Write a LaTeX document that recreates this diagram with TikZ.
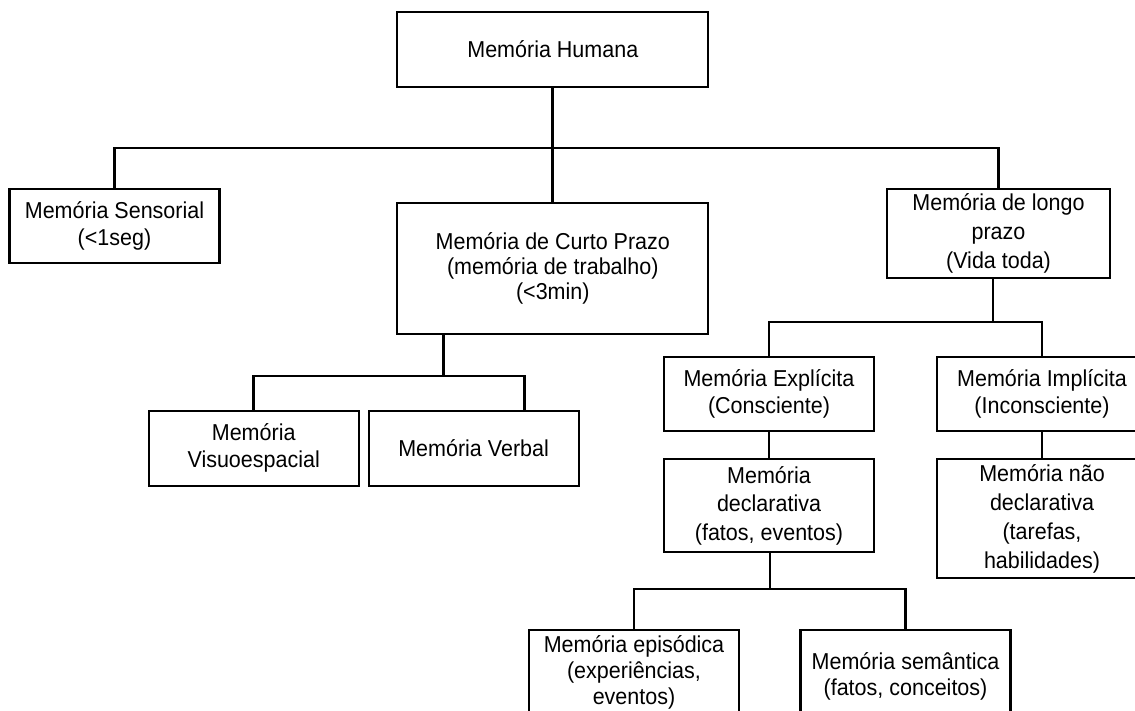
\documentclass[tikz,border=0pt]{standalone}
\usepackage{fontspec}
\setmainfont[FakeStretch=0.935]{Liberation Sans}
\usepackage{tikz}
\usetikzlibrary{positioning, calc}

\begin{document}
\begin{tikzpicture}[x=1pt, y=-1pt,
    bloco/.style={draw, line width=2.2pt, align=center, inner sep=0pt,
      minimum width=210pt, font=\fontsize{23}{27}\selectfont},
    liga/.style={line width=2.8pt}]
    \useasboundingbox (0,0) rectangle (1135,710);
    \clip (0,0) rectangle (1135,710);

    % Topo
    \node[bloco, minimum width=311pt, minimum height=75pt] (hum) at (552.8,49.5) {Memória Humana};

    % Primeiro nivel
    \node[bloco, minimum height=74pt] (sens) at (114.5,226) {Memória Sensorial\\(<1seg)};
    \node[bloco, minimum width=311pt, minimum height=131pt, font=\fontsize{23}{25}\selectfont] (curto) at (552.8,268.5)
        {Memória de Curto Prazo\\(memória de trabalho)\\(<3min)};
    \node[bloco, minimum width=223pt, minimum height=89pt, font=\fontsize{23}{29}\selectfont] (longo) at (998.5,233.5)
        {Memória de longo\\prazo\\(Vida toda)};

    % Curto prazo
    \node[bloco, minimum height=75pt] (visuo) at (253.7,448.2) {Memória\\Visuoespacial};
    \node[bloco, minimum height=75pt] (verbal) at (473.6,448.2) {Memória Verbal};

    % Longo prazo
    \node[bloco, minimum height=74pt] (expl) at (769,394) {Memória Explícita\\(Consciente)};
    \node[bloco, minimum height=74pt] (impl) at (1042,394) {Memória Implícita\\(Inconsciente)};
    \node[bloco, minimum height=93pt, font=\fontsize{23}{28.5}\selectfont] (decl) at (769,505.7)
        {Memória\\declarativa\\(fatos, eventos)};
    \node[bloco, minimum height=119pt, font=\fontsize{23}{29}\selectfont] (ndecl) at (1042,518.5)
        {Memória não\\declarativa\\(tarefas,\\habilidades)};
    \node[bloco, minimum height=84pt, font=\fontsize{23}{26}\selectfont] (epis) at (634,672)
        {Memória episódica\\(experiências,\\eventos)};
    \node[bloco, minimum height=93pt, font=\fontsize{23}{26}\selectfont] (sem) at (905.5,676.5)
        {Memória semântica\\(fatos, conceitos)};

    % Ligacoes
    \coordinate (bus1) at (552.8,148);
    \coordinate (bus2) at (443.2,376);
    \coordinate (vb) at (524.3,376);
    \coordinate (bus3) at (993,322);
    \coordinate (bus4) at (770,589);

    \draw[liga] (hum.south) -- (curto.north);
    \draw[liga] (sens.north) |- (bus1) -| (longo.north);
    \draw[liga] (curto.south -| bus2) -- (bus2);
    \draw[liga] (visuo.north) |- (vb) -- (vb |- verbal.north);
    \draw[liga] (longo.south -| bus3) -- (bus3);
    \draw[liga] (expl.north) |- (bus3) -| (impl.north);
    \draw[liga] (expl) -- (decl);
    \draw[liga] (impl) -- (ndecl);
    \draw[liga] (decl.south -| bus4) -- (bus4);
    \draw[liga] (epis.north) |- (bus4) -| (sem.north);
\end{tikzpicture}
\end{document}
